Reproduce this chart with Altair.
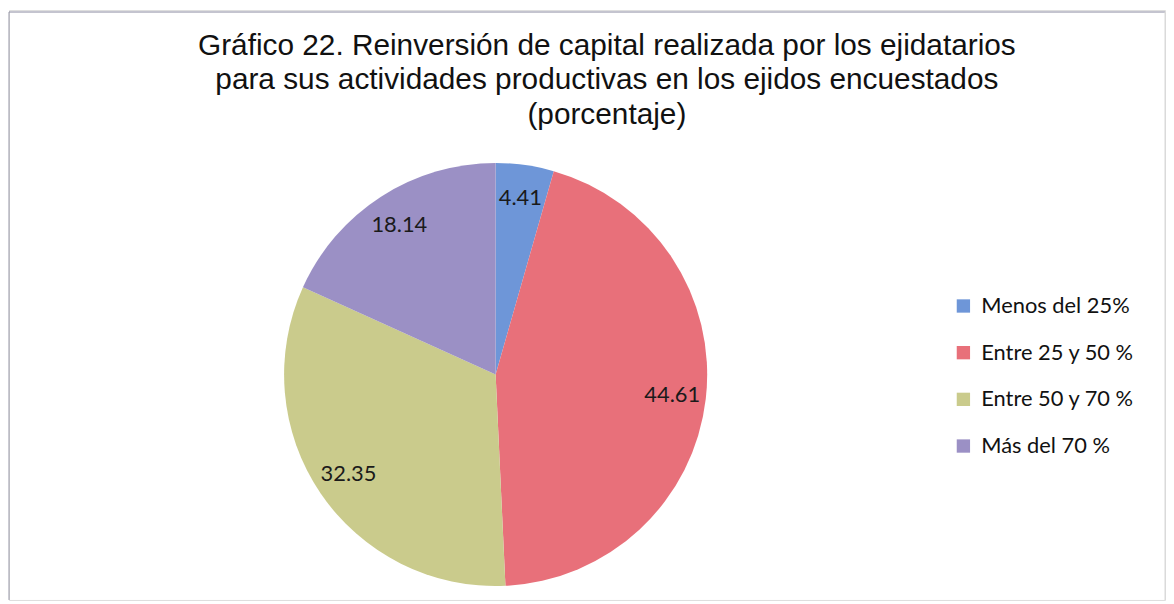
import altair as alt
import pandas as pd

categories = ["Menos del 25%", "Entre 25 y 50 %", "Entre 50 y 70 %", "Más del 70 %"]
values = [4.41, 44.61, 32.35, 18.14]
labels = ["4.41", "44.61", "32.35", "18.14"]
colors = ["#6e96d8", "#e8707a", "#cacb8c", "#9b90c5"]
title_lines = [
    "Gráfico 22. Reinversión de capital realizada por los ejidatarios",
    "para sus actividades productivas en los ejidos encuestados",
    "(porcentaje)",
]

df = pd.DataFrame({
    "cat": categories,
    "val": values,
    "lab": labels,
    "ord": list(range(len(categories))),
})

CX, CY = 490, 367

base = alt.Chart(df).encode(
    theta=alt.Theta("val:Q", stack=True),
    order=alt.Order("ord:Q"),
)

pie = base.mark_arc(outerRadius=213).encode(
    x=alt.value(CX),
    y=alt.value(CY),
    color=alt.Color(
        "cat:N",
        scale=alt.Scale(domain=categories, range=colors),
        sort=categories,
        legend=alt.Legend(
            title=None,
            orient="none",
            legendX=950,
            legendY=287,
            symbolType="square",
            symbolSize=180,
            symbolStrokeWidth=0.8,
            labelFont="Lato",
            labelFontSize=22,
            labelColor="#111111",
            rowPadding=25,
            labelOffset=7,
        ),
    ),
)

text = base.mark_text(radius=179, font="Lato", fontSize=22, color="#1a1a1a").encode(
    x=alt.value(CX),
    y=alt.value(CY),
    text="lab:N",
)

title = alt.Chart(pd.DataFrame({"k": [0]})).mark_text(
    font="Liberation Sans",
    fontSize=30,
    color="#111111",
    align="center",
    baseline="alphabetic",
    lineHeight=35,
).encode(
    x=alt.value(602),
    y=alt.value(45),
    text=alt.value(title_lines),
)

frame_top = alt.Chart(pd.DataFrame({"k": [0]})).mark_rule(color="#8a8aa0", strokeWidth=1.2).encode(
    x=alt.value(0), x2=alt.value(1164), y=alt.value(2)
)
frame_left = alt.Chart(pd.DataFrame({"k": [0]})).mark_rule(color="#9a9aa8", strokeWidth=1).encode(
    x=alt.value(0), y=alt.value(2), y2=alt.value(594)
)
frame_right = alt.Chart(pd.DataFrame({"k": [0]})).mark_rule(color="#d8d8d8", strokeWidth=1).encode(
    x=alt.value(1164), y=alt.value(2), y2=alt.value(594)
)

chart = alt.layer(frame_top, frame_left, frame_right, pie, text, title).properties(
    width=1164,
    height=594,
    padding=0,
).configure_view(stroke=None).configure(background="white")

chart.save("out.html", embed_options={"renderer": "svg", "actions": False})
